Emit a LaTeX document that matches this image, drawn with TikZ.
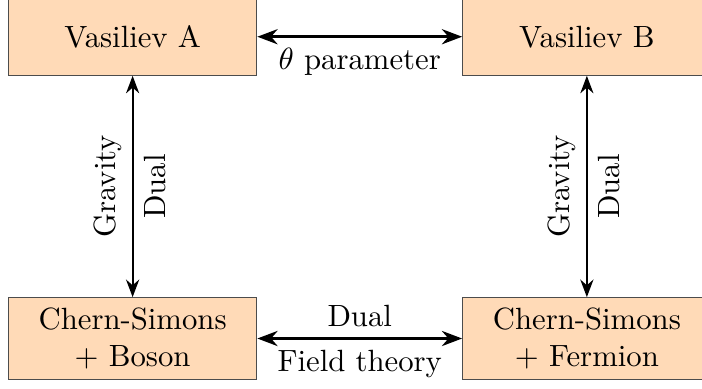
\documentclass[tikz,border=0pt]{standalone}
\usepackage{amsmath,amssymb}
\usepackage{xcolor}
\usetikzlibrary{arrows.meta,positioning}
\definecolor{boxfill}{RGB}{255,218,183}

\begin{document}
\begin{tikzpicture}[font=\normalsize,
  theory/.style={draw=black!70,fill=boxfill,minimum width=2.84cm,
                 minimum height=0.88cm,align=center},
  link/.style={{Stealth}-{Stealth}}]
\useasboundingbox (0,0) rectangle (8.03,-4.44);      % page frame
\node[theory] (vasA) at (1.517,-0.42) {Vasiliev A};
\node[theory] (vasB) at (6.713,-0.42) {Vasiliev B};
\node[theory] (csB)  at (1.517,-3.872) {Chern-Simons\\+ Boson};
\node[theory] (csF)  at (6.713,-3.872) {Chern-Simons\\+ Fermion};
\draw[link,thick] (vasA) -- (vasB)
   node[midway,below]{$\theta$ parameter};          % bulk side
\draw[link,thick] (csB) -- (csF)
   node[midway,above]{Dual} node[midway,below]{Field theory};
\foreach \a/\b in {csB/vasA,csF/vasB}
  \draw[link,semithick] (\a) -- (\b)
     node[midway,above,sloped]{Gravity} node[midway,below,sloped]{Dual};
\end{tikzpicture}
\end{document}
